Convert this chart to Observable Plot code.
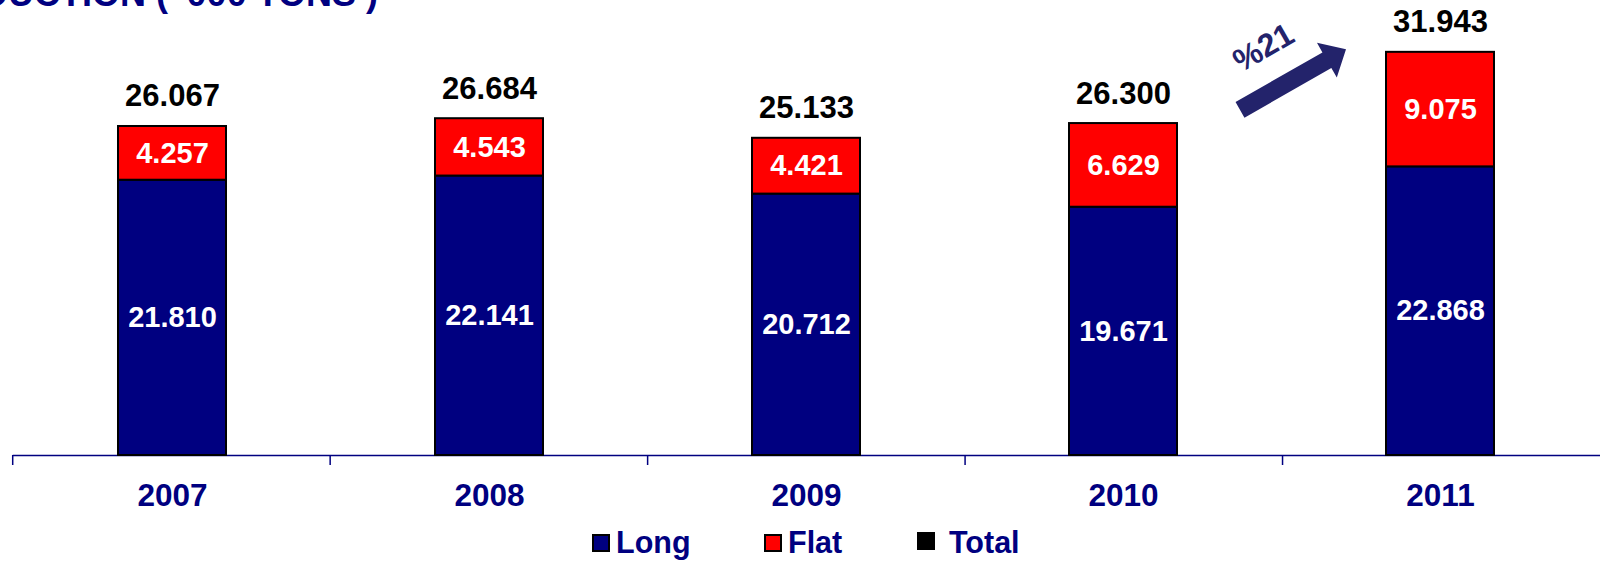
<!DOCTYPE html>
<html>
<head>
<meta charset="utf-8">
<script src="https://cdn.jsdelivr.net/npm/d3@7"></script>
<script src="https://cdn.jsdelivr.net/npm/@observablehq/plot@0.6"></script>
<style>
  html, body { margin: 0; padding: 0; background: #fff; overflow: hidden; }
  #wrap { position: relative; width: 1600px; height: 561px; font-family: "Liberation Sans", Arial, sans-serif; }
  #title { position: absolute; z-index: 2; right: 1222px; top: -24px; white-space: nowrap; font-size: 36px; line-height: 36px; font-weight: bold; color: #000080; }
  #chart { position: absolute; left: 0; top: 0; z-index: 1; }
  #legend { position: absolute; left: 0; top: 522px; width: 1600px; height: 39px; }
  .sw { position: absolute; width: 18px; height: 18px; box-sizing: border-box; border: 2px solid #000; }
  .lt { position: absolute; top: 5px; font-size: 30.5px; line-height: 30px; font-weight: bold; color: #000080; white-space: nowrap; }
</style>
</head>
<body>
<div id="wrap">
  <div id="title">PRODUCTION ( '000 TONS )</div>
  <div id="chart"></div>
  <div id="legend"></div>
</div>
<script>
// ---- data ----
const years = ["2007", "2008", "2009", "2010", "2011"];
const longValues = [21810, 22141, 20712, 19671, 22868];
const flatValues = [4257, 4543, 4421, 6629, 9075];
const seriesNames = ["Long", "Flat", "Total"];
const seriesColors = ["#000080", "#FF0000", "#000000"];
const titleText = "PRODUCTION ( '000 TONS )";

// ---- derived tables ----
const totals = years.map((y, i) => longValues[i] + flatValues[i]);
const rows = [];
years.forEach((y, i) => {
  rows.push({year: y, series: "Long", value: longValues[i]});
  rows.push({year: y, series: "Flat", value: flatValues[i]});
});
const totalRows = years.map((y, i) => ({year: y, total: totals[i]}));
const fmt = d3.formatLocale({decimal: ",", thousands: ".", grouping: [3], currency: ["", ""]}).format(",");
const growth = Math.round((totals[4] / totals[3] - 1) * 100);

document.getElementById("title").textContent = titleText;

const navy = "#000080";
const arrowColor = "#23236B";
const font = "Liberation Sans, Arial, sans-serif";

// custom mark: category boundary ticks on the x axis
function boundaryTicks(index, scales, values, dimensions) {
  const {width, marginLeft, marginRight} = dimensions;
  const n = years.length;
  const step = (width - marginLeft - marginRight) / n;
  const y0 = scales.y(0);
  const g = d3.create("svg:g");
  for (let i = 0; i < n; ++i) {
    const x = marginLeft + i * step;
    g.append("line").attr("x1", x).attr("x2", x).attr("y1", y0).attr("y2", y0 + 10)
      .attr("stroke", navy).attr("stroke-width", 1.5);
  }
  return g.node();
}

// custom mark: growth arrow annotation between 2010 and 2011
function growthArrow(index, scales) {
  const bx = scales.x(years[4]);
  const ty = scales.y(totals[4]);
  const tail = [bx - 146, ty + 58];
  const tip = [bx - 40, ty - 2.5];
  const dx = tip[0] - tail[0], dy = tip[1] - tail[1];
  const L = Math.hypot(dx, dy);
  const ang = Math.atan2(dy, dx) * 180 / Math.PI;
  const hw = 9, hl = 22, hh = 20;
  const pts = [[0, -hw], [L - hl, -hw], [L - hl, -hh], [L, 0], [L - hl, hh], [L - hl, hw], [0, hw]];
  const g = d3.create("svg:g");
  g.append("polygon")
    .attr("points", pts.map(p => p.join(",")).join(" "))
    .attr("fill", arrowColor)
    .attr("transform", `translate(${tail[0]},${tail[1]}) rotate(${ang})`);
  g.append("text")
    .attr("transform", `translate(${bx - 123},${ty - 5}) rotate(${ang})`)
    .attr("text-anchor", "middle")
    .attr("dy", "0.36em")
    .attr("fill", arrowColor)
    .attr("font-family", font)
    .attr("font-weight", "bold")
    .attr("font-size", 32)
    .text("%" + growth);
  return g.node();
}

const chart = Plot.plot({
  width: 1600,
  height: 522,
  marginLeft: 12.7,
  marginRight: 0,
  marginTop: 0,
  marginBottom: 67,
  style: {fontFamily: font, background: "transparent", overflow: "visible"},
  x: {type: "band", domain: years, paddingInner: 0.66, paddingOuter: 0.33, axis: null},
  y: {domain: [0, 36050], axis: null},
  color: {domain: ["Long", "Flat"], range: [seriesColors[0], seriesColors[1]]},
  marks: [
    Plot.ruleY([0], {stroke: navy, strokeWidth: 1.5}),
    boundaryTicks,
    Plot.barY(rows, {x: "year", y: "value", fill: "series", stroke: "#000", strokeWidth: 2}),
    Plot.text(rows, Plot.stackY({
      x: "year", y: "value", z: "series",
      text: d => fmt(d.value),
      fill: "white", fontSize: 29, fontWeight: "bold"
    })),
    Plot.text(totalRows, {
      x: "year", y: "total", text: d => fmt(d.total),
      dy: -20, lineAnchor: "bottom", fill: "#000", fontSize: 31, fontWeight: "bold"
    }),
    Plot.text(totalRows, {
      x: "year", y: () => 0, text: "year",
      dy: 50, lineAnchor: "bottom", fill: navy, fontSize: 31.5, fontWeight: "bold"
    }),
    growthArrow
  ]
});
document.getElementById("chart").appendChild(chart);

// legend
const legend = d3.select("#legend");
const swLeft = [592, 764, 917];
const swTop = [12, 12, 10];
const txtLeft = [616, 788, 949];
seriesNames.forEach((name, i) => {
  legend.append("div").attr("class", "sw")
    .style("left", swLeft[i] + "px").style("top", swTop[i] + "px")
    .style("background", seriesColors[i]);
  legend.append("div").attr("class", "lt")
    .style("left", txtLeft[i] + "px")
    .text(name);
});
</script>
</body>
</html>
